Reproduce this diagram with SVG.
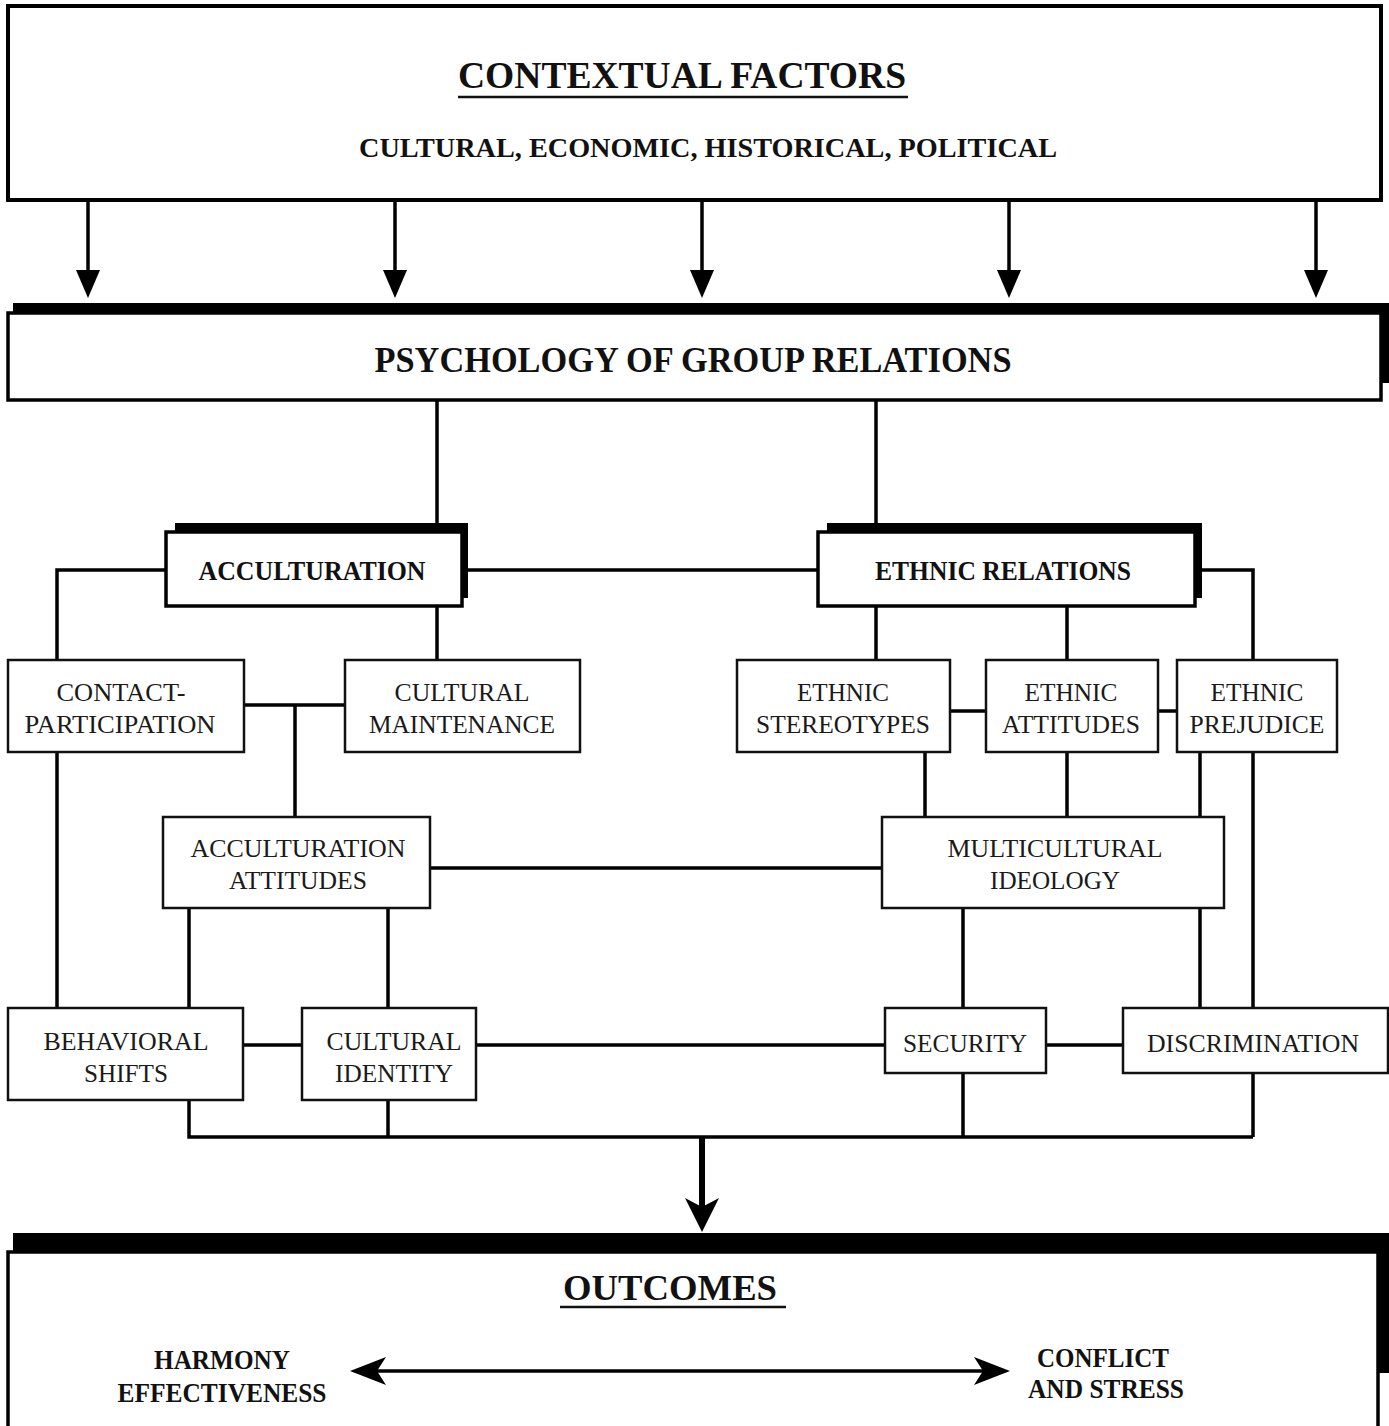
<svg xmlns="http://www.w3.org/2000/svg" width="1389" height="1426" viewBox="0 0 1389 1426">
<style>
.box{fill:#fff;stroke:#111;stroke-width:2.5}
.main{fill:#fff;stroke:#000;stroke-width:3.5}
.shadow{fill:#000}
.t{font-family:"Liberation Serif","Times New Roman",serif;font-size:26px;fill:#1a1a1a;text-anchor:middle}
.b{font-family:"Liberation Serif","Times New Roman",serif;font-weight:bold;fill:#111;text-anchor:middle}
.c{fill:none;stroke:#000;stroke-width:3.5}
</style>
<defs>
<marker id="tri" markerUnits="userSpaceOnUse" markerWidth="30" markerHeight="26" refX="18" refY="12" orient="auto">
<path d="M0,0 L28,12 L0,24 z" fill="#000"/>
</marker>
<marker id="barb" markerUnits="userSpaceOnUse" markerWidth="38" markerHeight="30" refX="20" refY="14" orient="auto-start-reverse">
<path d="M0,0 L36,14 L0,28 L9,14 z" fill="#000"/>
</marker>
<marker id="bigbarb" markerUnits="userSpaceOnUse" markerWidth="38" markerHeight="36" refX="18" refY="17" orient="auto">
<path d="M0,0 L34,17 L0,34 L9,17 z" fill="#000"/>
</marker>
</defs>

<g id="outcomes">
<rect class="shadow" x="13" y="1233" width="1376" height="140"/>
<rect class="main" x="8" y="1252" width="1370" height="200"/>
<text class="b" x="670" y="1300" font-size="36" textLength="214" lengthAdjust="spacingAndGlyphs">OUTCOMES</text>
<line x1="560" y1="1307" x2="786" y2="1307" stroke="#111" stroke-width="2.5"/>
<text class="b" x="222" y="1369" font-size="27" textLength="136" lengthAdjust="spacingAndGlyphs">HARMONY</text>
<text class="b" x="222" y="1402" font-size="27" textLength="209" lengthAdjust="spacingAndGlyphs">EFFECTIVENESS</text>
<text class="b" x="1103" y="1367" font-size="27" textLength="132" lengthAdjust="spacingAndGlyphs">CONFLICT</text>
<text class="b" x="1106" y="1398" font-size="27" textLength="156" lengthAdjust="spacingAndGlyphs">AND STRESS</text>
</g>

<g id="connectors">
<path class="c" d="M88,200 V288" marker-end="url(#tri)"/>
<path class="c" d="M395,200 V288" marker-end="url(#tri)"/>
<path class="c" d="M702,200 V288" marker-end="url(#tri)"/>
<path class="c" d="M1009,200 V288" marker-end="url(#tri)"/>
<path class="c" d="M1316,200 V288" marker-end="url(#tri)"/>
<path class="c" d="M437,400 V532 M876,400 V532"/>
<path class="c" d="M57,660 V570 H166 M462,570 H818 M1195,570 H1253 V1137"/>
<path class="c" d="M57,752 V1008 M437,606 V660 M244,705 H345 M295,705 V817"/>
<path class="c" d="M876,606 V660 M1067,606 V660 M950,711 H986 M1158,711 H1177"/>
<path class="c" d="M925,752 V817 M1067,752 V817 M1200,752 V1008"/>
<path class="c" d="M430,868 H882 M189,908 V1008 M388,908 V1008 M963,908 V1008"/>
<path class="c" d="M243,1045 H302 M476,1045 H885 M1046,1045 H1123"/>
<path class="c" d="M189,1100 V1137 H1253 M388,1100 V1137 M963,1073 V1137"/>
<path class="c" style="stroke-width:6" d="M702,1137 V1216" marker-end="url(#bigbarb)"/>
<path class="c" d="M366,1371 H994" marker-start="url(#barb)" marker-end="url(#barb)"/>
</g>

<g id="contextual-factors">
<rect x="8" y="6" width="1373" height="194" fill="#fff" stroke="#000" stroke-width="4"/>
<text class="b" x="682" y="88" font-size="37" textLength="448" lengthAdjust="spacingAndGlyphs">CONTEXTUAL FACTORS</text>
<line x1="458" y1="97" x2="908" y2="97" stroke="#111" stroke-width="2.5"/>
<text class="b" x="708" y="157" font-size="27" textLength="698" lengthAdjust="spacingAndGlyphs">CULTURAL, ECONOMIC, HISTORICAL, POLITICAL</text>
</g>

<g id="psychology-of-group-relations">
<rect class="shadow" x="13" y="303" width="1376" height="80"/>
<rect class="main" x="8" y="313" width="1373" height="87"/>
<text class="b" x="693" y="372" font-size="35" textLength="637" lengthAdjust="spacingAndGlyphs">PSYCHOLOGY OF GROUP RELATIONS</text>
</g>

<g id="acculturation">
<rect class="shadow" x="175" y="523" width="293" height="75"/>
<rect class="main" x="166" y="532" width="296" height="74"/>
<text class="b" x="312" y="580" font-size="27" textLength="227" lengthAdjust="spacingAndGlyphs">ACCULTURATION</text>
</g>

<g id="ethnic-relations">
<rect class="shadow" x="827" y="523" width="375" height="75"/>
<rect class="main" x="818" y="532" width="377" height="74"/>
<text class="b" x="1003" y="580" font-size="27" textLength="256" lengthAdjust="spacingAndGlyphs">ETHNIC RELATIONS</text>
</g>

<g id="contact-participation">
<rect class="box" x="8" y="660" width="236" height="92"/>
<text class="t" x="121" y="701" textLength="129" lengthAdjust="spacingAndGlyphs">CONTACT-</text>
<text class="t" x="120" y="733" textLength="191" lengthAdjust="spacingAndGlyphs">PARTICIPATION</text>
</g>

<g id="cultural-maintenance">
<rect class="box" x="345" y="660" width="235" height="92"/>
<text class="t" x="462" y="701" textLength="135" lengthAdjust="spacingAndGlyphs">CULTURAL</text>
<text class="t" x="462" y="733" textLength="186" lengthAdjust="spacingAndGlyphs">MAINTENANCE</text>
</g>

<g id="ethnic-stereotypes">
<rect class="box" x="737" y="660" width="213" height="92"/>
<text class="t" x="843" y="701" textLength="92" lengthAdjust="spacingAndGlyphs">ETHNIC</text>
<text class="t" x="843" y="733" textLength="174" lengthAdjust="spacingAndGlyphs">STEREOTYPES</text>
</g>

<g id="ethnic-attitudes">
<rect class="box" x="986" y="660" width="172" height="92"/>
<text class="t" x="1071" y="701" textLength="93" lengthAdjust="spacingAndGlyphs">ETHNIC</text>
<text class="t" x="1071" y="733" textLength="138" lengthAdjust="spacingAndGlyphs">ATTITUDES</text>
</g>

<g id="ethnic-prejudice">
<rect class="box" x="1177" y="660" width="160" height="92"/>
<text class="t" x="1257" y="701" textLength="93" lengthAdjust="spacingAndGlyphs">ETHNIC</text>
<text class="t" x="1257" y="733" textLength="135" lengthAdjust="spacingAndGlyphs">PREJUDICE</text>
</g>

<g id="acculturation-attitudes">
<rect class="box" x="163" y="817" width="267" height="91"/>
<text class="t" x="298" y="857" textLength="215" lengthAdjust="spacingAndGlyphs">ACCULTURATION</text>
<text class="t" x="298" y="889" textLength="138" lengthAdjust="spacingAndGlyphs">ATTITUDES</text>
</g>

<g id="multicultural-ideology">
<rect class="box" x="882" y="817" width="342" height="91"/>
<text class="t" x="1055" y="857" textLength="215" lengthAdjust="spacingAndGlyphs">MULTICULTURAL</text>
<text class="t" x="1055" y="889" textLength="130" lengthAdjust="spacingAndGlyphs">IDEOLOGY</text>
</g>

<g id="behavioral-shifts">
<rect class="box" x="8" y="1008" width="235" height="92"/>
<text class="t" x="126" y="1050" textLength="165" lengthAdjust="spacingAndGlyphs">BEHAVIORAL</text>
<text class="t" x="126" y="1082" textLength="84" lengthAdjust="spacingAndGlyphs">SHIFTS</text>
</g>

<g id="cultural-identity">
<rect class="box" x="302" y="1008" width="174" height="92"/>
<text class="t" x="394" y="1050" textLength="135" lengthAdjust="spacingAndGlyphs">CULTURAL</text>
<text class="t" x="394" y="1082" textLength="118" lengthAdjust="spacingAndGlyphs">IDENTITY</text>
</g>

<g id="security">
<rect class="box" x="885" y="1008" width="161" height="65"/>
<text class="t" x="965" y="1052" textLength="124" lengthAdjust="spacingAndGlyphs">SECURITY</text>
</g>

<g id="discrimination">
<rect class="box" x="1123" y="1008" width="265" height="65"/>
<text class="t" x="1253" y="1052" textLength="212" lengthAdjust="spacingAndGlyphs">DISCRIMINATION</text>
</g>
</svg>
